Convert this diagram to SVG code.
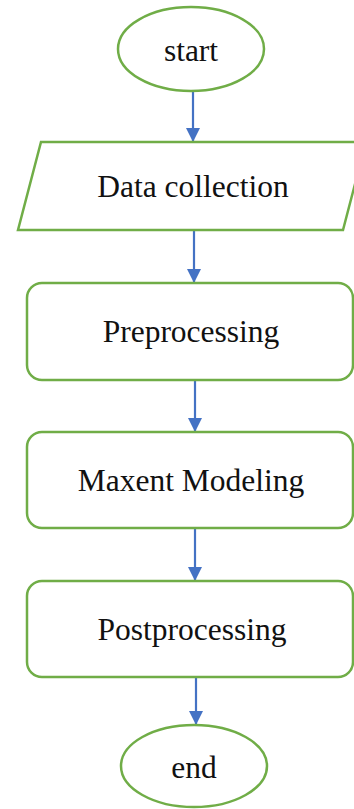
<svg xmlns="http://www.w3.org/2000/svg" width="354" height="809" viewBox="0 0 354 809">
<defs>
<marker id="ah" markerWidth="16" markerHeight="14" refX="14" refY="7" orient="auto" markerUnits="userSpaceOnUse">
<path d="M0,0 L14,7 L0,14 Z" fill="#4472C4"/>
</marker>
<style>
.n{fill:#fff;stroke:#70AD47;stroke-width:2.5}
.t{font-family:"Liberation Serif","Times New Roman",serif;font-size:31.5px;fill:#111;text-anchor:middle}
.c{stroke:#4472C4;stroke-width:2.2;fill:none;marker-end:url(#ah)}
</style>
</defs>
<rect width="354" height="809" fill="#fff"/>
<g id="connectors">
<line class="c" x1="193" y1="92" x2="193" y2="142"/>
<line class="c" x1="194" y1="231" x2="194" y2="283"/>
<line class="c" x1="195" y1="381" x2="195" y2="432"/>
<line class="c" x1="195" y1="528" x2="195" y2="581"/>
<line class="c" x1="196" y1="678" x2="196" y2="725"/>
</g>
<g id="start">
<ellipse class="n" cx="191" cy="49" rx="73" ry="42"/>
<text class="t" x="191" y="61">start</text>
</g>
<g id="data-collection">
<polygon class="n" points="41,142 366,142 343,230 18,230"/>
<text class="t" x="193" y="197">Data collection</text>
</g>
<g id="preprocessing">
<rect class="n" x="27" y="283" width="326" height="97" rx="15"/>
<text class="t" x="191" y="342">Preprocessing</text>
</g>
<g id="maxent-modeling">
<rect class="n" x="27" y="432" width="326" height="96" rx="15"/>
<text class="t" x="191" y="491">Maxent Modeling</text>
</g>
<g id="postprocessing">
<rect class="n" x="27" y="581" width="326" height="96" rx="15"/>
<text class="t" x="192" y="640">Postprocessing</text>
</g>
<g id="end">
<ellipse class="n" cx="194" cy="766" rx="73" ry="41"/>
<text class="t" x="194" y="778">end</text>
</g>
</svg>
